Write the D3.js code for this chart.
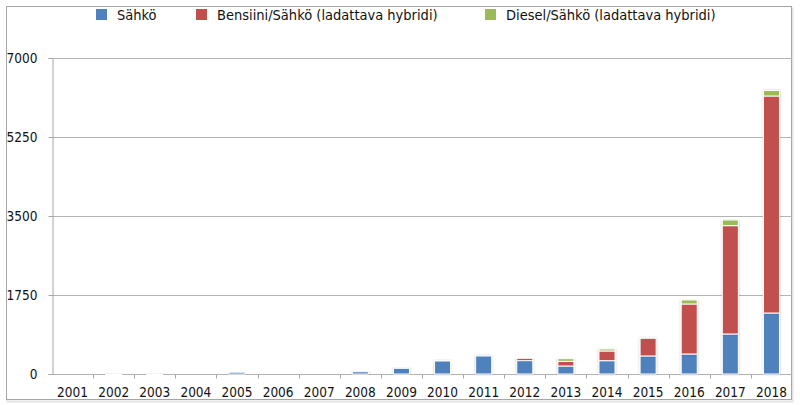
<!DOCTYPE html>
<html>
  <head>
    <meta charset="utf-8">
    <title>Sähkö- ja hybridiautot</title>
    <script src="https://cdn.jsdelivr.net/npm/d3@7"></script>
    <style>
      body { margin: 0; background: #fff; }
      text { font-family: "DejaVu Sans Condensed", "DejaVu Sans", sans-serif; fill: #111; }
    </style>
  </head>
  <body>
    <svg id="chart" width="800" height="405"></svg>
    <script>
      // data
      var years = ["2001", "2002", "2003", "2004", "2005", "2006", "2007", "2008", "2009",
                   "2010", "2011", "2012", "2013", "2014", "2015", "2016", "2017", "2018"];
      var sahko    = [0, 3, 3, 0, 40, 0, 0, 50, 126, 288, 399, 295, 177, 295, 399, 443, 886, 1351];
      var bensiini = [0, 0, 0, 0, 0, 0, 0, 0, 0, 0, 0, 53, 104, 215, 392, 1108, 2400, 4807];
      var diesel   = [0, 0, 0, 0, 0, 0, 0, 0, 0, 0, 0, 0, 58, 44, 0, 89, 126, 122];
      var seriesNames = ["Sähkö", "Bensiini/Sähkö (ladattava hybridi)", "Diesel/Sähkö (ladattava hybridi)"];
      var seriesColors = ["#4f81bd", "#c0504d", "#9bbb59"];
      var yTicks = [0, 1750, 3500, 5250, 7000];

      var rows = years.map(function(y, i) {
        return { year: y, s: sahko[i], b: bensiini[i], d: diesel[i] };
      });

      var svg = d3.select("#chart");
      var margin = { top: 58, right: 8, bottom: 31, left: 52 };
      var width = 800, height = 405;

      // outer frame
      svg.append("rect")
        .attr("x", 7.5).attr("y", 8.5)
        .attr("width", 785).attr("height", 393)
        .attr("fill", "none").attr("stroke", "#e4e4e4").attr("stroke-width", 2);
      svg.append("rect")
        .attr("x", 6.5).attr("y", 6.5)
        .attr("width", 785).attr("height", 393)
        .attr("fill", "#fff").attr("stroke", "#a6a6a6");

      var x = d3.scaleBand()
        .domain(years)
        .range([margin.left, width - margin.right])
        .paddingInner(0.61)
        .paddingOuter(0.305);
      var y = d3.scaleLinear()
        .domain([0, 7000])
        .range([height - margin.bottom, margin.top]);

      // gridlines
      svg.append("g")
        .selectAll("line")
          .data(yTicks)
        .enter().append("line")
          .attr("x1", margin.left).attr("x2", width - margin.right)
          .attr("y1", function(d) { return Math.round(y(d)) + 0.5; })
          .attr("y2", function(d) { return Math.round(y(d)) + 0.5; })
          .attr("stroke", "#b3b3b3");

      // shadow filter for bars
      var defs = svg.append("defs");
      var f = defs.append("filter").attr("id", "shadow")
        .attr("x", "-30%").attr("y", "-10%").attr("width", "160%").attr("height", "120%");
      f.append("feDropShadow").attr("dx", 0).attr("dy", 0).attr("stdDeviation", 1)
        .attr("flood-color", "#000").attr("flood-opacity", 0.25);

      var stack = d3.stack().keys(["s", "b", "d"]);
      var layers = svg.append("g")
        .selectAll(".layer")
          .data(stack(rows))
        .enter().append("g")
          .attr("class", "layer")
          .attr("fill", function(d, i) { return seriesColors[i]; });
      layers.selectAll("rect")
          .data(function(d) { return d; })
        .enter().append("rect")
          .filter(function(d) { return d[1] - d[0] > 0; })
          .attr("x", function(d) { return x(d.data.year); })
          .attr("y", function(d) { return y(d[1]); })
          .attr("width", x.bandwidth())
          .attr("height", function(d) { return Math.max(1, y(d[0]) - y(d[1])); })
          .attr("stroke", "#fff")
          .attr("stroke-width", 1)
          .attr("filter", "url(#shadow)");

      // y axis
      var yAxis = d3.axisLeft(y)
        .tickValues(yTicks)
        .tickFormat(d3.format("d"))
        .tickSize(4)
        .tickPadding(11);
      var yg = svg.append("g")
        .attr("transform", "translate(" + (margin.left + 0.5) + ",0)")
        .call(yAxis);
      yg.select(".domain").attr("stroke", "#a6a6a6");
      yg.selectAll(".tick line").attr("stroke", "#a6a6a6");
      yg.selectAll("text").style("font-size", "13.5px").attr("fill", "#111");

      // x axis: labels centred, ticks at band boundaries
      var xg = svg.append("g")
        .attr("transform", "translate(0," + (y(0) + 0.5) + ")");
      xg.selectAll("line")
          .data(years.slice(1))
        .enter().append("line")
          .attr("x1", function(d) { return Math.round(x(d) - x.step() * x.paddingInner() / 2) + 0.5; })
          .attr("x2", function(d) { return Math.round(x(d) - x.step() * x.paddingInner() / 2) + 0.5; })
          .attr("y1", 0).attr("y2", 4)
          .attr("stroke", "#a6a6a6");
      xg.selectAll("text")
          .data(years)
        .enter().append("text")
          .attr("x", function(d) { return x(d) + x.bandwidth() / 2; })
          .attr("y", 22)
          .attr("text-anchor", "middle")
          .style("font-size", "13.5px")
          .text(function(d) { return d; });

      // legend
      var legendX = [96, 196, 485];
      var legend = svg.append("g")
        .selectAll("g")
          .data(seriesNames)
        .enter().append("g")
          .attr("transform", function(d, i) { return "translate(" + legendX[i] + ",9)"; });
      legend.append("rect")
        .attr("width", 11).attr("height", 11)
        .attr("fill", function(d, i) { return seriesColors[i]; });
      legend.append("text")
        .attr("x", 21).attr("y", 11)
        .style("font-size", "14.5px")
        .text(function(d) { return d; });
    </script>
  </body>
</html>
